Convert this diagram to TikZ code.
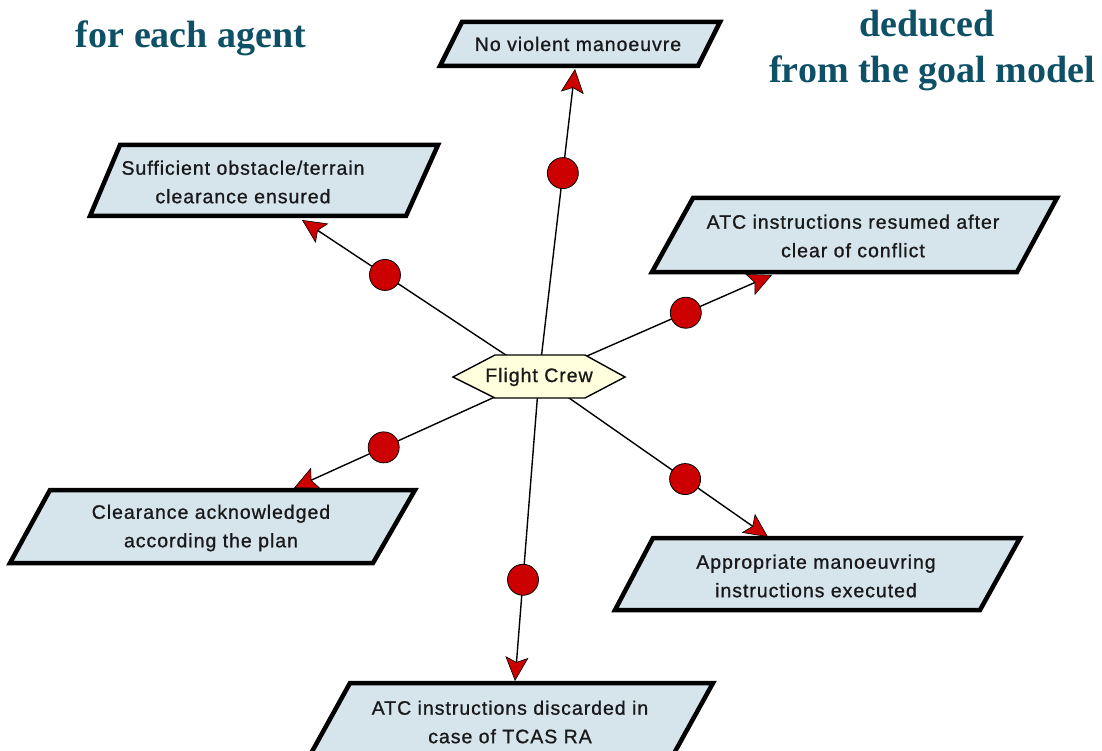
\documentclass[tikz,border=0pt]{standalone}
\usepackage{fontspec}
\setmainfont{Liberation Serif}
\setsansfont{Liberation Sans}
\newfontfamily\boxfont[LetterSpace=5,FakeBold=0.9]{Liberation Sans}
\usetikzlibrary{arrows.meta}
\pgfdeclarelayer{paper}
\pgfdeclarelayer{bg}
\pgfdeclarelayer{mid}
\pgfsetlayers{paper,bg,mid,main}
\definecolor{titleteal}{RGB}{14,80,102}
\definecolor{goalfill}{RGB}{214,228,236}
\definecolor{agentfill}{RGB}{255,255,221}
\definecolor{dotred}{RGB}{204,0,0}
\definecolor{inkgrey}{RGB}{25,25,25}
\tikzset{
  titletext/.style={anchor=base, text=titleteal, font=\bfseries\fontsize{38}{46}\selectfont, inner sep=0},
  goalshape/.style={draw=black, line width=4.5pt, fill=goalfill, line join=miter},
  goaltext/.style={align=center, inner sep=0, text=inkgrey, font=\boxfont\fontsize{19.5}{28.5}\selectfont},
  agentshape/.style={draw=black, line width=1.4pt, fill=agentfill},
  resp/.style={draw=black, line width=1.4pt, -{Stealth[length=24pt, width=23pt, inset=5pt, fill=dotred, line width=0.6pt]}},
  dot/.style={circle, draw=black, line width=0.8pt, fill=dotred, minimum size=31pt, inner sep=0},
}
\begin{document}
\begin{tikzpicture}[x=1pt, y=-1pt]
\useasboundingbox (0,0) rectangle (1102,751);
\begin{pgfonlayer}{paper}
\fill[white] (0,0) rectangle (1102,751);
\end{pgfonlayer}

% titles
\node[titletext] (tA) at (191,48) {for each agent};
\node[titletext] (tB) at (927,37) {deduced};
\node[titletext] (tC) at (932,83) {from the goal model};

% agent
\node[text=inkgrey, font=\boxfont\fontsize{19.5}{24}\selectfont, inner sep=0] (fc) at (539,377) {Flight Crew};
\begin{pgfonlayer}{mid}
\draw[agentshape] (453,377) -- (495,355) -- (585,355) -- (625,377) -- (585,398) -- (495,398) -- cycle;
\end{pgfonlayer}

% goals
\draw[goalshape] (462,22) -- (720,22) -- (698,66) -- (440,66) -- cycle;
\node[goaltext] (g1) at (578,44) {No violent manoeuvre};

\draw[goalshape] (120,145) -- (438,145) -- (406,216) -- (90,216) -- cycle;
\node[goaltext] (g2) at (243,182) {Sufficient obstacle/terrain\\clearance ensured};

\draw[goalshape] (693,198) -- (1057,198) -- (1017,272) -- (652,272) -- cycle;
\node[goaltext] (g3) at (853,236) {ATC instructions resumed after\\clear of conflict};

\draw[goalshape] (50,490) -- (415,490) -- (373,563) -- (10,563) -- cycle;
\node[goaltext] (g4) at (211,528) {Clearance acknowledged\\according the plan};

\draw[goalshape] (653,538) -- (1020,538) -- (980,610) -- (615,610) -- cycle;
\node[goaltext] (g5) at (816,576) {Appropriate manoeuvring\\instructions executed};

\draw[goalshape] (350,683) -- (713,683) -- (672,757) -- (309,757) -- cycle;
\node[goaltext] (g6) at (510,722) {ATC instructions discarded in\\case of TCAS RA};

% arrow tips on the goal borders
\coordinate (t1) at (575,69);
\coordinate (t2) at (302,220);
\coordinate (t3) at (772,275);
\coordinate (t4) at (294,488);
\coordinate (t5) at (768,537);
\coordinate (t6) at (515,681);

\begin{pgfonlayer}{bg}
\draw[resp] (fc.center) -- node[dot, pos=0.662] (d1) {} (t1);
\draw[resp] (fc.center) -- node[dot, pos=0.65] (d2) {} (t2);
\draw[resp] (fc.center) -- node[dot, pos=0.63] (d3) {} (t3);
\draw[resp] (fc.center) -- node[dot, pos=0.634] (d4) {} (t4);
\draw[resp] (fc.center) -- node[dot, pos=0.638] (d5) {} (t5);
\draw[resp] (fc.center) -- node[dot, pos=0.667] (d6) {} (t6);
\end{pgfonlayer}
\end{tikzpicture}
\end{document}
